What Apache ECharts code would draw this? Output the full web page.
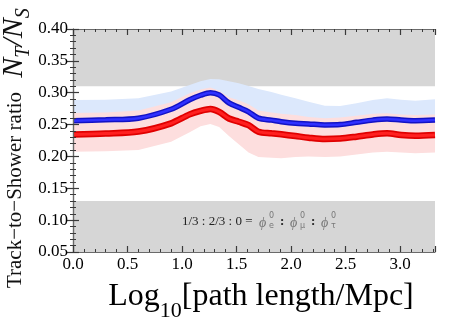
<!DOCTYPE html>
<html><head><meta charset="utf-8">
<script src="https://cdn.jsdelivr.net/npm/echarts@6/dist/echarts.min.js"></script>
<style>html,body{margin:0;padding:0;background:#fff}
#wrap{position:relative;width:463px;height:320px}
#c,#ax{position:absolute;left:0;top:0;width:463px;height:320px}
#ax{pointer-events:none}</style>
</head><body><div id="wrap"><div id="c"></div><div id="ax"></div></div>
<script>
// ---- data ----
const xVals         = [0, 0.3, 0.6, 0.9, 1.07, 1.17, 1.26, 1.34, 1.43, 1.52, 1.61, 1.70, 1.82, 1.91, 2.04, 2.16, 2.31, 2.45, 2.60, 2.75, 2.88, 3.01, 3.14, 3.32];
const blueLine      = [0.256, 0.2575, 0.260, 0.274, 0.289, 0.296, 0.300, 0.2965, 0.284, 0.277, 0.270, 0.260, 0.257, 0.2545, 0.252, 0.251, 0.2495, 0.250, 0.2535, 0.257, 0.2587, 0.2572, 0.2561, 0.257];
const redLine       = [0.2345, 0.236, 0.239, 0.252, 0.266, 0.2715, 0.2745, 0.270, 0.2595, 0.2545, 0.249, 0.2388, 0.2363, 0.2347, 0.232, 0.2294, 0.2273, 0.228, 0.231, 0.2345, 0.2363, 0.2336, 0.2325, 0.2336];
const blueBandUpper = [0.2886, 0.289, 0.2912, 0.302, 0.312, 0.318, 0.3215, 0.321, 0.318, 0.315, 0.3105, 0.306, 0.301, 0.297, 0.2912, 0.286, 0.2795, 0.279, 0.2835, 0.2885, 0.2912, 0.289, 0.2875, 0.2896];
const blueBandLower = [0.240, 0.241, 0.244, 0.257, 0.271, 0.278, 0.282, 0.278, 0.266, 0.259, 0.252, 0.242, 0.239, 0.236, 0.234, 0.233, 0.231, 0.232, 0.235, 0.239, 0.241, 0.239, 0.238, 0.239];
const redBandUpper  = [0.268, 0.269, 0.272, 0.285, 0.299, 0.305, 0.308, 0.303, 0.293, 0.288, 0.282, 0.272, 0.269, 0.267, 0.265, 0.262, 0.260, 0.261, 0.264, 0.267, 0.2677, 0.266, 0.265, 0.266];
const redBandLower  = [0.2074, 0.208, 0.210, 0.223, 0.238, 0.2475, 0.251, 0.246, 0.232, 0.219, 0.206, 0.199, 0.198, 0.197, 0.199, 0.200, 0.199, 0.200, 0.203, 0.206, 0.2074, 0.206, 0.205, 0.206];
const grayBands     = [[0.05, 0.13], [0.31, 0.40]];
const xRange = [0, 3.32];
const yRange = [0.05, 0.40];
const flavourSubs = ['e', '\u03bc', '\u03c4'];

const SERIF = '"Liberation Serif", "DejaVu Serif", serif';
const GRID = {left: 73, right: 28, top: 29, bottom: 68};

// ---------- data layer ----------
const chart = echarts.init(document.getElementById('c'), null, {renderer: 'canvas'});

function bandSeries(upper, lower, color, z) {
  return {
    type: 'custom', z: z, silent: true, clip: true,
    data: [[xVals[0], upper[0]]],
    renderItem: function (params, api) {
      const pts = [];
      for (let i = 0; i < xVals.length; i++) pts.push(api.coord([xVals[i], upper[i]]));
      for (let i = xVals.length - 1; i >= 0; i--) pts.push(api.coord([xVals[i], lower[i]]));
      return {type: 'polygon', shape: {points: pts}, style: {fill: color}};
    }
  };
}
function lineSeries(vals, color, width, z) {
  return {
    type: 'line', z: z, silent: true, showSymbol: false, smooth: 0.3,
    data: xVals.map((x, i) => [x, vals[i]]),
    lineStyle: {color: color, width: width}
  };
}

const phiEls = [];
const phiX = [259, 290, 321];
phiX.forEach((px, i) => {
  phiEls.push({type: 'text', x: px, y: 223, silent: true, z: 100, style: {text: '\u03d5', font: 'italic 14px ' + SERIF, fill: '#777', align: 'left', verticalAlign: 'middle'}});
  phiEls.push({type: 'text', x: px + 10, y: 216, silent: true, z: 100, style: {text: '0', font: '8px "DejaVu Sans", sans-serif', fill: '#777', align: 'left', verticalAlign: 'middle'}});
  phiEls.push({type: 'text', x: px + 10, y: 226, silent: true, z: 100, style: {text: flavourSubs[i], font: '8px "DejaVu Sans", sans-serif', fill: '#777', align: 'left', verticalAlign: 'middle'}});
  if (i < 2) phiEls.push({type: 'text', x: px + 21, y: 222, silent: true, z: 100, style: {text: ':', font: 'bold 13px ' + SERIF, fill: '#222', align: 'left', verticalAlign: 'middle'}});
});

chart.setOption({
  animation: false,
  grid: GRID,
  xAxis: {type: 'value', min: xRange[0], max: xRange[1], show: false},
  yAxis: {type: 'value', min: yRange[0], max: yRange[1], show: false},
  series: [
    {
      type: 'custom', z: 1, silent: true, clip: true,
      data: grayBands.map(b => [xRange[0], b[0], b[1]]),
      renderItem: function (params, api) {
        const lo = api.value(1), hi = api.value(2);
        const p1 = api.coord([xRange[0], hi]);
        const p2 = api.coord([xRange[1], lo]);
        return {type: 'rect', shape: {x: p1[0], y: p1[1], width: p2[0] - p1[0], height: p2[1] - p1[1]},
          style: {fill: '#d6d6d6'}};
      }
    },
    bandSeries(blueBandUpper, blueBandLower, '#dce8fc', 2),
    bandSeries(redBandUpper, redBandLower, '#fddede', 3),
    lineSeries(blueLine, '#1212c4', 5.5, 4),
    lineSeries(blueLine, '#3030ff', 2.5, 5),
    lineSeries(redLine, '#e00000', 6.5, 6),
    lineSeries(redLine, '#ff2020', 3, 7)
  ],
  graphic: {
    elements: [
    {type: 'text', x: 15, y: 190, rotation: Math.PI / 2, silent: true, z: 100,
      style: {text: 'Track\u2212to\u2212Shower ratio', font: '21px ' + SERIF, fill: '#111',
        align: 'center', verticalAlign: 'middle', textAlign: 'center', textVerticalAlign: 'middle'}},
    {type: 'text', x: 14, y: 43, rotation: Math.PI / 2, silent: true, z: 100,
      style: {text: '{n|N}{s|T}{n|/N}{s|S}', fill: '#111',
        align: 'center', verticalAlign: 'middle', textAlign: 'center', textVerticalAlign: 'middle',
        rich: {
          n: {fontFamily: SERIF, fontStyle: 'italic', fontSize: 30, fill: '#111'},
          s: {fontFamily: SERIF, fontStyle: 'italic', fontSize: 20, padding: [19, 0, 0, 0], fill: '#111'}
        }}},
    {type: 'text', x: 261, y: 297, silent: true, z: 100,
      style: {text: '{a|Log}{s|10}{a|[path length/Mpc]}', fill: '#000',
        align: 'center', verticalAlign: 'middle', textAlign: 'center', textVerticalAlign: 'middle',
        rich: {
          a: {fontFamily: SERIF, fontSize: 32, fill: '#000'},
          s: {fontFamily: SERIF, fontSize: 22, padding: [29, 0, 0, 0], fill: '#000'}
        }}},
    {type: 'text', x: 182, y: 222, silent: true, z: 100,
      style: {text: '1/3 : 2/3 : 0 =', font: '13px ' + SERIF, fill: '#222',
        align: 'left', verticalAlign: 'middle', textAlign: 'left', textVerticalAlign: 'middle'}}
    ].concat(phiEls)
  }
});

// ---------- axes / frame layer (transparent overlay, same grid) ----------
const ax = echarts.init(document.getElementById('ax'), null, {renderer: 'canvas'});
const lineCol = '#6a6a6a', tickCol = '#3a3a3a';
function frameAxis(range, interval, position, label) {
  return {
    type: 'value', min: range[0], max: range[1], interval: interval, position: position,
    splitLine: {show: false},
    axisLine: {show: true, lineStyle: {color: lineCol, width: 1.2}},
    axisTick: {show: true, inside: true, length: 6, lineStyle: {color: tickCol, width: 1.2}},
    minorTick: {show: true, splitNumber: 5, length: 3, lineStyle: {color: tickCol, width: 1}},
    axisLabel: label
  };
}
ax.setOption({
  backgroundColor: 'transparent',
  animation: false,
  textStyle: {fontFamily: SERIF},
  grid: GRID,
  xAxis: [
    frameAxis(xRange, 0.5, 'bottom', {show: true, color: '#000', fontFamily: SERIF, fontSize: 17, margin: 4,
      showMaxLabel: false, formatter: v => v.toFixed(1)}),
    frameAxis(xRange, 0.5, 'top', {show: false})
  ],
  yAxis: [
    frameAxis(yRange, 0.05, 'left', {show: true, color: '#000', fontFamily: SERIF, fontSize: 17, margin: 5,
      formatter: v => v.toFixed(2)}),
    frameAxis(yRange, 0.05, 'right', {show: false})
  ],
  series: [{type: 'line', data: [], silent: true}]
});
</script>
</body></html>
